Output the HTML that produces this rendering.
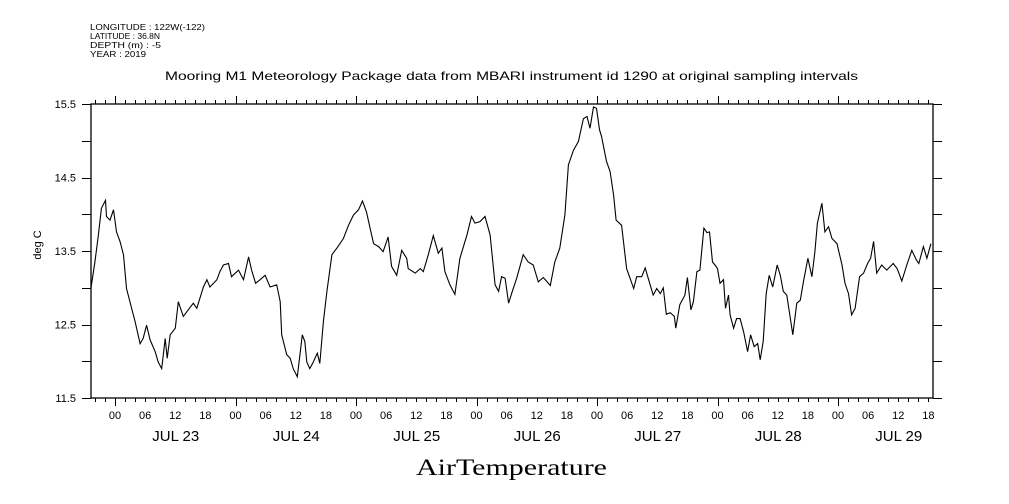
<!DOCTYPE html>
<html><head><meta charset="utf-8"><style>
body{margin:0;background:#fff}
svg{display:block;font-family:"Liberation Sans",sans-serif}
</style></head><body>
<svg id="c" width="1009" height="504" viewBox="0 0 1009 504">
<g font-size="8.5" fill="#000">
<text x="90" y="30" textLength="115" lengthAdjust="spacingAndGlyphs">LONGITUDE : 122W(-122)</text>
<text x="90" y="39" textLength="70" lengthAdjust="spacingAndGlyphs">LATITUDE : 36.8N</text>
<text x="90" y="48" textLength="71" lengthAdjust="spacingAndGlyphs">DEPTH (m) : -5</text>
<text x="90" y="57" textLength="56" lengthAdjust="spacingAndGlyphs">YEAR : 2019</text>
</g>
<text x="165" y="80" textLength="693" lengthAdjust="spacingAndGlyphs" font-size="12">Mooring M1 Meteorology Package data from MBARI instrument id 1290 at original sampling intervals</text>
<text transform="translate(41,245) rotate(-90)" text-anchor="middle" font-size="11">deg C</text>
<text x="416" y="475" textLength="191" lengthAdjust="spacingAndGlyphs" font-size="23" font-family="'Liberation Serif',serif">AirTemperature</text>
<g id="axes"></g>
<g id="series"></g>
</svg>
<script>
const hours=[-4.8,-4.0,-3.3,-2.7,-1.9,-1.7,-1.0,-0.3,0.3,1.0,1.7,2.3,3.3,4.0,5.0,5.6,6.3,7.0,8.0,8.6,9.3,10.0,10.4,11.0,12.0,12.6,13.6,14.6,15.6,16.3,17.6,18.3,18.9,20.3,20.9,21.6,22.6,23.2,24.6,25.6,26.6,27.2,28.0,28.9,29.9,30.9,32.2,32.9,33.2,34.2,34.9,35.5,36.3,36.9,37.3,37.8,38.2,38.8,39.5,40.3,40.8,41.5,42.2,43.2,44.2,45.5,46.5,47.5,48.5,49.3,50.1,50.8,51.5,
52.5,53.4,54.4,55.1,56.1,57.1,58.1,58.4,59.8,60.8,61.4,62.4,63.4,64.4,65.1,65.7,66.7,67.7,68.7,70.1,71.0,71.7,72.7,73.7,74.7,75.7,76.4,77.0,77.7,78.4,79.0,80.0,81.3,82.3,83.3,84.3,85.3,86.7,87.6,88.6,89.6,90.3,91.3,92.3,93.3,94.0,94.6,95.3,95.9,96.5,96.9,97.9,98.6,99.3,99.8,100.9,101.9,103.3,103.9,104.9,105.6,106.2,107.2,107.9,108.6,109.2,109.8,
110.6,111.4,111.7,112.5,113.5,114.0,114.7,115.2,115.9,116.5,117.3,117.9,118.4,119.0,119.5,120.0,120.5,121.2,121.6,122.2,122.5,123.2,123.8,124.5,125.2,126.0,126.6,127.3,128.0,128.5,129.1,129.7,130.3,131.0,131.9,132.5,133.1,133.8,135.0,135.8,136.5,137.1,138.0,138.8,139.4,139.9,140.8,141.4,142.1,142.8,143.8,144.8,145.4,146.1,146.7,147.4,148.3,149.1,149.9,150.5,151.1,151.7,152.7,153.7,155.0,155.8,156.7,157.7,158.7,159.6,160.1,161.0,161.7,162.5];
const temps=[12.99,13.35,13.72,14.08,14.19,13.97,13.92,14.06,13.76,13.63,13.45,12.99,12.72,12.54,12.24,12.31,12.49,12.29,12.13,11.99,11.90,12.31,12.04,12.36,12.45,12.81,12.61,12.70,12.79,12.72,13.01,13.11,13.01,13.11,13.22,13.31,13.33,13.15,13.24,13.11,13.42,13.24,13.06,13.11,13.17,13.01,13.04,12.81,12.36,12.09,12.04,11.90,11.79,12.13,12.36,12.27,11.99,11.90,11.99,12.11,11.97,12.54,12.95,13.45,13.54,13.67,13.85,13.99,14.06,14.18,14.03,13.81,13.60,
13.56,13.49,13.69,13.29,13.17,13.51,13.40,13.26,13.20,13.26,13.22,13.45,13.71,13.47,13.54,13.22,13.04,12.91,13.40,13.72,13.97,13.88,13.90,13.97,13.72,13.04,12.95,13.15,13.13,12.79,12.92,13.13,13.45,13.35,13.31,13.08,13.14,13.03,13.35,13.54,13.99,14.67,14.87,14.99,15.30,15.33,15.17,15.46,15.44,15.15,15.06,14.72,14.58,14.26,13.92,13.85,13.26,12.99,13.15,13.15,13.27,13.13,12.90,12.99,12.92,13.00,12.64,
12.66,12.61,12.45,12.77,12.90,13.14,12.70,12.81,13.22,13.24,13.81,13.75,13.76,13.35,13.31,13.26,13.06,13.11,12.72,12.90,12.63,12.45,12.58,12.58,12.40,12.13,12.36,12.20,12.24,12.02,12.27,12.92,13.17,13.01,13.31,13.17,12.95,12.90,12.36,12.79,12.83,13.08,13.40,13.15,13.49,13.88,14.15,13.76,13.83,13.67,13.60,13.31,13.06,12.92,12.63,12.72,13.15,13.20,13.33,13.40,13.63,13.20,13.31,13.24,13.33,13.26,13.09,13.31,13.51,13.38,13.33,13.56,13.40,13.60];
const yTickLabels=["15.5","14.5","13.5","12.5","11.5"];
const hourLabels=["00","06","12","18"];
const dayLabels=["JUL 23","JUL 24","JUL 25","JUL 26","JUL 27","JUL 28","JUL 29"];

const L=91,R=933,T=104,B=398,X0=115,PXH=120.5/24;
const yMin=11.5,yMax=15.5;
const xs=h=>X0+h*PXH;
const ys=v=>B-(v-yMin)/(yMax-yMin)*(B-T);
const NS="http://www.w3.org/2000/svg";
const axes=document.getElementById('axes'),ser=document.getElementById('series');
function mk(tag,at,par){const e=document.createElementNS(NS,tag);for(const k in at)e.setAttribute(k,at[k]);par.appendChild(e);return e;}
const frame=mk('rect',{x:L,y:T,width:R-L,height:B-T,fill:'none',stroke:'#000','stroke-width':1.3},axes);


let d='';
for(let h=-4;h<=164;h+=2){const x=Math.round(xs(h))+0.5;if(x<L||x>R)continue;const len=(h%24===0)?8:4;d+=`M${x} ${T}V${T-len}M${x} ${B}V${B+len}`;}
for(let v=11.5;v<=15.5001;v+=0.5){const y=Math.round(ys(v))+0.5;d+=`M${L} ${y}H${L-9}M${R} ${y}H${R+9}`;}
const tk=mk('path',{d:d,stroke:'#000','stroke-width':1,fill:'none'},axes);


yTickLabels.forEach(s=>{const t=mk('text',{x:L-15,y:ys(parseFloat(s))+4,'text-anchor':'end','font-size':11},axes);t.textContent=s;

});
for(let h=0;h<=162;h+=6){const t=mk('text',{x:xs(h),y:419,'text-anchor':'middle','font-size':11},axes);t.textContent=hourLabels[(h/6)%4];

}
dayLabels.forEach((s,i)=>{const t=mk('text',{x:xs(i*24+12)-23,y:441,'font-size':15,textLength:47,lengthAdjust:'spacingAndGlyphs'},axes);t.textContent=s;

});
const pts=hours.map((h,i)=>xs(h).toFixed(1)+','+ys(temps[i]).toFixed(1)).join(' ');
const ln=mk('polyline',{points:pts,fill:'none',stroke:'#000','stroke-width':1.1},ser);


</script>
</body></html>
